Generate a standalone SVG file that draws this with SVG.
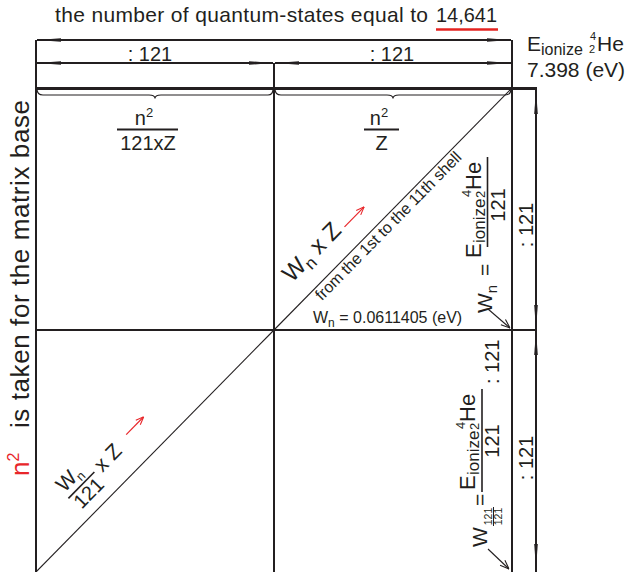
<svg xmlns="http://www.w3.org/2000/svg" width="628" height="572" viewBox="0 0 628 572">
<style>
text{font-family:"Liberation Sans",Arial,sans-serif;fill:#231f20}
.ln{stroke:#231f20;stroke-width:2;fill:none}
.tk{stroke:#231f20;stroke-width:3;fill:none}
.th{stroke:#231f20;stroke-width:1.1;fill:none}
.dim{stroke:#231f20;stroke-width:2;fill:none;marker-start:url(#ah);marker-end:url(#ah)}
.red{fill:#e8262a}
.rl{stroke:#e8262a;stroke-width:1.2;fill:none;marker-end:url(#ra)}
.bl{stroke:#231f20;stroke-width:1.1;fill:none;marker-end:url(#ba)}
</style>
<defs>
<marker id="ah" viewBox="0 0 24 6" refX="24" refY="3" markerWidth="24" markerHeight="6" markerUnits="userSpaceOnUse" orient="auto-start-reverse"><path d="M0,1.2 L24,3 L0,4.8 z" fill="#231f20"/></marker>
<marker id="ra" viewBox="0 0 10 10" refX="10" refY="5" markerWidth="9" markerHeight="9" markerUnits="userSpaceOnUse" orient="auto"><path d="M1,1.5 L10,5 L1,8.5" fill="none" stroke="#e8262a" stroke-width="1.2"/></marker>
<marker id="ba" viewBox="0 0 10 10" refX="10" refY="5" markerWidth="10" markerHeight="10" markerUnits="userSpaceOnUse" orient="auto"><path d="M1,1.5 L10,5 L1,8.5" fill="none" stroke="#231f20" stroke-width="1.1"/></marker>
</defs>

<g id="title">
<text x="55" y="22" font-size="21" textLength="373" lengthAdjust="spacing">the number of quantum-states equal to</text>
<text x="436" y="22" font-size="21" textLength="61" lengthAdjust="spacingAndGlyphs">14,641</text>
<line x1="436" y1="29.5" x2="498" y2="29.5" stroke="#e42320" stroke-width="2.5"/>
</g>

<g id="connectors">
<line class="ln" x1="36" y1="40" x2="36" y2="572"/>
<line class="ln" x1="512" y1="40" x2="512" y2="572"/>
<line class="ln" x1="274" y1="63" x2="274" y2="572"/>
<line class="tk" x1="36" y1="88.5" x2="537" y2="88.5"/>
<line class="ln" x1="36" y1="330" x2="537" y2="330"/>
<line class="ln" x1="536" y1="88" x2="536" y2="572"/>
<line class="dim" x1="37" y1="40" x2="511" y2="40"/>
<line class="dim" x1="37" y1="63" x2="273" y2="63"/>
<line class="dim" x1="275" y1="63" x2="511" y2="63"/>
<line class="dim" x1="536" y1="90" x2="536" y2="329"/>
<line class="dim" x1="536" y1="331" x2="536" y2="568"/>
<path class="th" d="M37,89 Q37,95 43,95 H149 Q155,95 155,98.5 Q155,95 161,95 H268 Q273,95 273,89"/>
<path class="th" d="M275,89 Q275,95 281,95 H387 Q393,95 393,98.5 Q393,95 399,95 H505 Q511,95 511,89"/>
<line class="th" x1="274" y1="330" x2="512" y2="88"/>
<line class="th" x1="36" y1="572" x2="274" y2="330"/>
<line class="bl" x1="488" y1="309" x2="510" y2="328"/>
<line class="bl" x1="488" y1="549" x2="509" y2="569"/>
</g>

<g id="top-labels">
<text x="150" y="61" font-size="20" text-anchor="middle">: 121</text>
<text x="392" y="61" font-size="20" text-anchor="middle">: 121</text>
</g>

<g id="ionize-label">
<text x="527" y="51" font-size="21">E<tspan font-size="16" dy="4">ionize</tspan></text>
<text x="589" y="53" font-size="11">2</text>
<text x="590" y="40" font-size="11">4</text>
<text x="597" y="51" font-size="21">He</text>
<text x="527" y="77" font-size="21">7.398 (eV)</text>
</g>

<g id="frac-left">
<text x="144" y="125" font-size="20" text-anchor="middle">n<tspan font-size="13" dy="-8">2</tspan></text>
<line x1="117" y1="129.5" x2="178" y2="129.5" stroke="#231f20" stroke-width="2"/>
<text x="148" y="150" font-size="20" text-anchor="middle">121xZ</text>
</g>

<g id="frac-right">
<text x="379" y="125" font-size="20" text-anchor="middle">n<tspan font-size="13" dy="-8">2</tspan></text>
<line x1="364" y1="129.5" x2="399" y2="129.5" stroke="#231f20" stroke-width="2"/>
<text x="381.5" y="150" font-size="20" text-anchor="middle">Z</text>
</g>

<g id="right-dims">
<text transform="translate(533,225) rotate(-90)" font-size="20" text-anchor="middle">: 121</text>
<text transform="translate(533,458) rotate(-90)" font-size="20" text-anchor="middle">: 121</text>
</g>

<g id="left-label">
<text transform="translate(29,476) rotate(-90)" font-size="26"><tspan class="red">n</tspan><tspan class="red" font-size="16" dy="-10">2</tspan></text>
<text transform="translate(29,476) rotate(-90)" x="48" font-size="26" textLength="328" lengthAdjust="spacing">is taken for the matrix base</text>
</g>

<g id="upper-diagonal" transform="translate(274,330) rotate(-45.5)">
<text x="46" y="-20" font-size="24">W<tspan font-size="17" dy="5">n</tspan><tspan dy="-5"> x Z</tspan></text>
<line class="rl" x1="123" y1="-22" x2="151" y2="-22"/>
<text x="54" y="14" font-size="16">from the 1st to the 11th shell</text>
</g>

<g id="wn-value">
<text x="313" y="323" font-size="16">W<tspan font-size="12" dy="4">n</tspan><tspan dy="-4"> = 0.0611405 (eV)</tspan></text>
</g>

<g id="wn-formula" transform="translate(492,313) rotate(-90)">
<text x="0" y="0" font-size="21">W<tspan font-size="15" dy="5">n</tspan></text>
<text x="37" y="0" font-size="21">=</text>
<text x="55" y="-11" font-size="22">E</text>
<text x="70" y="-7" font-size="17">ionize</text>
<text x="115" y="-7" font-size="13">2</text>
<text x="116" y="-21" font-size="13">4</text>
<text x="123" y="-11" font-size="22">He</text>
<line x1="66" y1="-4.5" x2="156" y2="-4.5" stroke="#231f20" stroke-width="1.6"/>
<text x="108" y="13" font-size="20" text-anchor="middle">121</text>
</g>

<g id="w121-formula" transform="translate(487,550) rotate(-90)">
<text x="3" y="0" font-size="21">W</text>
<text x="33.5" y="4.5" font-size="10.5" text-anchor="middle">121</text>
<line x1="24" y1="6.5" x2="43" y2="6.5" stroke="#231f20" stroke-width="1"/>
<text x="33.5" y="14.5" font-size="10.5" text-anchor="middle">121</text>
<text x="44" y="0" font-size="21">=</text>
<text x="60" y="-12" font-size="22">E</text>
<text x="75" y="-8" font-size="17">ionize</text>
<text x="120" y="-8" font-size="13">2</text>
<text x="121" y="-22" font-size="13">4</text>
<text x="128" y="-12" font-size="22">He</text>
<line x1="58" y1="-5" x2="161" y2="-5" stroke="#231f20" stroke-width="1.6"/>
<text x="109" y="12" font-size="20" text-anchor="middle">121</text>
<text x="166" y="12" font-size="20">: 121</text>
</g>

<g id="lower-diagonal" transform="translate(60,547.6) rotate(-45.5)">
<text x="42" y="-35" font-size="21">W<tspan font-size="13" dy="4">n</tspan></text>
<line x1="41" y1="-28.5" x2="78" y2="-28.5" stroke="#231f20" stroke-width="1.6"/>
<text x="59" y="-11" font-size="20" text-anchor="middle">121</text>
<text x="83" y="-22" font-size="21">x Z</text>
<line class="rl" x1="127" y1="-32" x2="152" y2="-32"/>
</g>
</svg>
